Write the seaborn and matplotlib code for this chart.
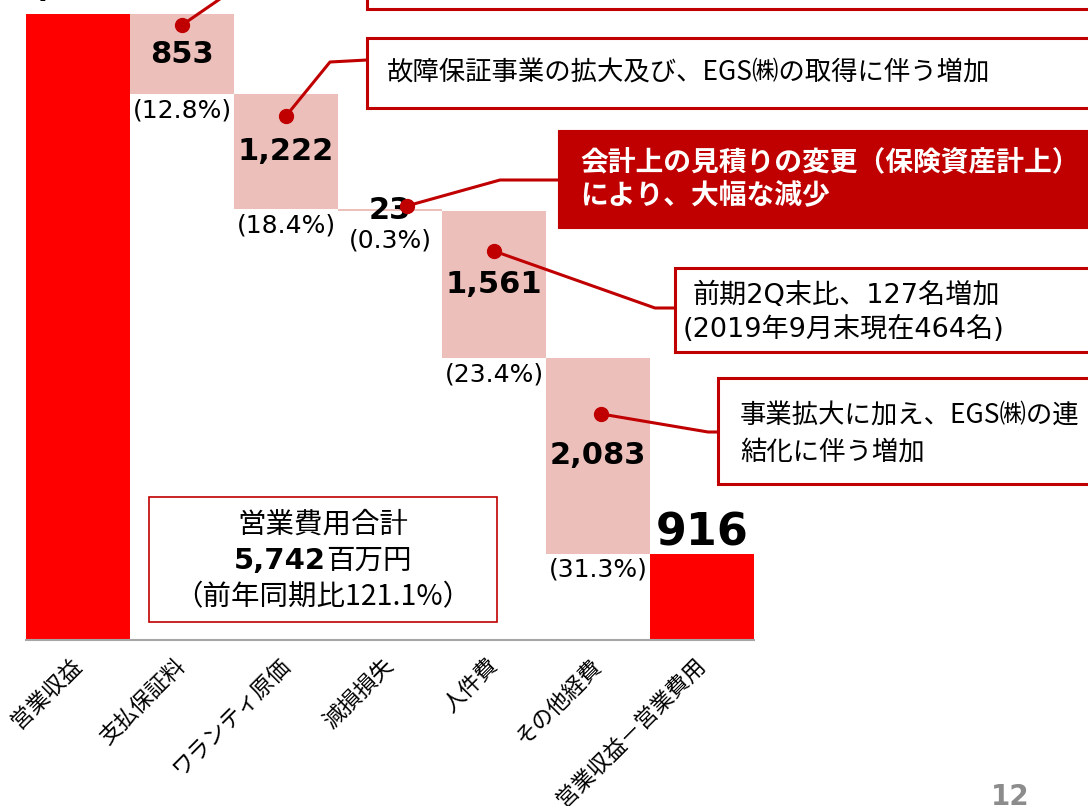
import numpy as np
import pandas as pd
import seaborn as sns
import matplotlib.pyplot as plt
from matplotlib.patches import Rectangle
from matplotlib.lines import Line2D

# -----------------------------
# data
# -----------------------------
categories = ["営業収益", "支払保証料", "ワランティ原価", "減損損失", "人件費", "その他経費", "営業収益－営業費用"]
revenue = 6658
costs = [853, 1222, 23, 1561, 2083]
profit = 916
cost_labels = ["853", "1,222", "23", "1,561", "2,083"]
cost_pcts = ["(12.8%)", "(18.4%)", "(0.3%)", "(23.4%)", "(31.3%)"]
total_lines = ["営業費用合計", "5,742", "百万円", "（前年同期比121.1%）"]

heights = [revenue] + costs + [profit]
bottoms = [0] + list(revenue - np.cumsum(costs)) + [0]
df = pd.DataFrame({"cat": categories, "h": heights, "b": bottoms})

RED = "#FF0000"
PINK = "#EDBFBB"
DARK = "#C00000"
JP = ["Noto Sans CJK JP", "DejaVu Sans"]
MIX = ["DejaVu Sans", "Noto Sans CJK JP"]  # latin/digits first, kana/kanji fall back
NUM = ["DejaVu Sans"]

sns.set_style("white")
plt.rcParams["font.family"] = JP
plt.rcParams["text.color"] = "black"
plt.rcParams["xtick.labelcolor"] = "black"

W, H = 1088, 806
fig = plt.figure(figsize=(W / 100, H / 100), dpi=100)
ax = fig.add_axes([26 / W, (H - 640) / H, 728 / W, 626 / H])

sns.barplot(data=df, x="cat", y="h", bottom=df["b"].values, width=1.0,
            color=PINK, linewidth=0, ax=ax)
colors = [RED] + [PINK] * len(costs) + [RED]
for p, c in zip(ax.patches, colors):
    p.set_facecolor(c)
    p.set_edgecolor("none")

ax.set_xlim(-0.5, len(categories) - 0.5)
ax.set_ylim(0, revenue)
ax.set_xlabel("")
ax.set_ylabel("")
ax.set_yticks([])
for s in ["top", "right", "left"]:
    ax.spines[s].set_visible(False)
ax.spines["bottom"].set_color("#A6A6A6")
ax.spines["bottom"].set_linewidth(1.5)
ax.set_xticks(np.arange(-0.5, len(categories)), minor=True)
ax.tick_params(axis="x", which="minor", length=6, width=1.5, color="#A6A6A6", direction="out")
ax.tick_params(axis="x", which="major", length=0, pad=16, labelsize=16, labelcolor="black")
plt.setp(ax.get_xticklabels(), rotation=45, ha="right", va="center", rotation_mode="anchor")

# value labels
pt = 72 / 100  # points per pixel
ax.annotate("6,658", (0, revenue), xytext=(0, 19 * pt), textcoords="offset points",
            ha="center", va="baseline", fontsize=32, fontweight="bold", family=NUM, annotation_clip=False)
ax.annotate(f"{profit}", (6, profit), xytext=(0, 8 * pt), textcoords="offset points",
            ha="center", va="baseline", fontsize=32, fontweight="bold", family=NUM)
for i, (c, b, lab, pct) in enumerate(zip(costs, bottoms[1:-1], cost_labels, cost_pcts)):
    x = i + 1
    off = 17 if c < 100 else 4
    ax.text(x, b + c / 2, lab, ha="center", va="center", fontsize=22, fontweight="bold", family=NUM)
    ax.annotate(pct, (x, b), xytext=(0, -off * pt), textcoords="offset points",
                ha="center", va="top", fontsize=18, family=NUM)


# -----------------------------
# callouts (pixel layout)
# -----------------------------
def px(x, y):
    return x / W, 1 - y / H


def d2f(x, y):
    return fig.transFigure.inverted().transform(ax.transData.transform((x, y)))


def box(x0, y0, x1, y1, fill="white", lw=2.2):
    fx, fy = px(x0, y1)
    fig.add_artist(Rectangle((fx, fy), (x1 - x0) / W, (y1 - y0) / H, transform=fig.transFigure,
                             facecolor=fill, edgecolor=DARK, linewidth=lw, zorder=5))


def leader(dot, pts):
    start = d2f(*dot)
    xs = [start[0]] + [px(*p)[0] for p in pts]
    ys = [start[1]] + [px(*p)[1] for p in pts]
    fig.add_artist(Line2D(xs, ys, transform=fig.transFigure, color=DARK, linewidth=2.2, zorder=6))
    fig.add_artist(Line2D([start[0]], [start[1]], transform=fig.transFigure, marker="o",
                          markersize=10, color=DARK, zorder=7))


def ftext(x, y, s, **kw):
    fx, fy = px(x, y)
    return fig.text(fx, fy, s, zorder=8, **kw)


# dots sit on the bars (data coords), elbows and boxes in pixels
leader((1, 6540), [(262, -30)])
box(367, -60, 1130, 9)

leader((2, 5573), [(330, 62), (367, 60)])
box(367, 38, 1130, 108)
ftext(387, 73, "故障保証事業の拡大及び、EGS㈱の取得に伴う増加", ha="left", va="center", fontsize=19)

leader((3.16, 4616), [(500, 180), (558, 180)])
box(558, 130, 1130, 228, fill=DARK, lw=0.8)
ftext(580, 179, "会計上の見積りの変更（保険資産計上）\nにより、大幅な減少", ha="left", va="center",
      fontsize=20, fontweight="bold", color="white", linespacing=1.2)

leader((4, 4137), [(655, 308), (675, 308)])
box(675, 268, 1130, 352)
ftext(693, 296, "前期2Q末比、127名増加", ha="left", va="center", fontsize=19.5, family=MIX)
ftext(683, 329, "(2019年9月末現在464名)", ha="left", va="center", fontsize=19.5, family=MIX)

leader((5.03, 2404), [(708, 432), (718, 432)])
box(718, 378, 1130, 484)
ftext(740, 415, "事業拡大に加え、EGS㈱の連", ha="left", va="center", fontsize=19)
ftext(740, 452, "結化に伴う増加", ha="left", va="center", fontsize=19)

# total box
box(149, 497, 497, 622, lw=1.2)
ftext(323, 525, total_lines[0], ha="center", va="center", fontsize=20.5)
ftext(323, 597, total_lines[3], ha="center", va="center", fontsize=20.5)
t1 = ftext(0, 561, total_lines[1], fontsize=21, fontweight="bold", family=NUM, va="center")
t2 = ftext(0, 561, total_lines[2], fontsize=20.5, va="center")
fig.canvas.draw()
r = fig.canvas.get_renderer()
w1 = t1.get_window_extent(r).width
w2 = t2.get_window_extent(r).width
x0 = 323 - (w1 + w2) / 2
t1.set_position(px(x0, 561))
t2.set_position(px(x0 + w1, 561))

# page number
ftext(1010, 783, "12", ha="center", va="top", fontsize=20, fontweight="bold", color="#8C8C8C", family=NUM)

fig.savefig("out.png", dpi=100)
